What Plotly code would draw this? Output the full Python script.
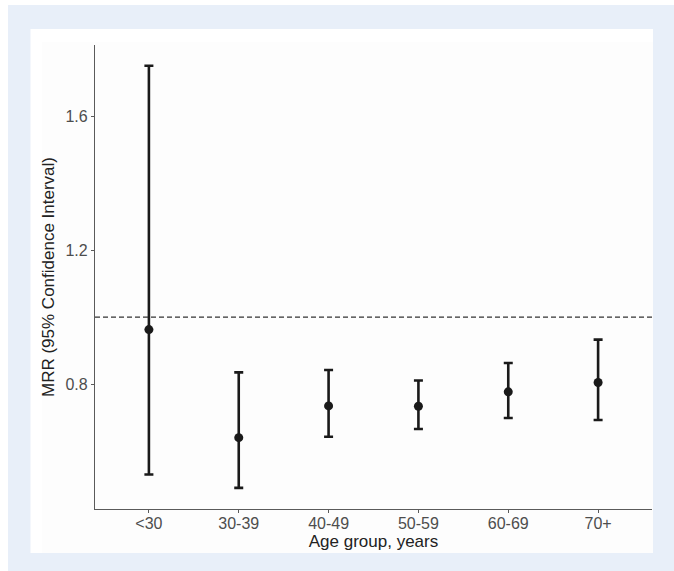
import plotly.graph_objects as go

categories = ["<30", "30-39", "40-49", "50-59", "60-69", "70+"]
mrr = [0.963, 0.640, 0.735, 0.734, 0.777, 0.805]
ci_lower = [0.530, 0.490, 0.643, 0.666, 0.699, 0.693]
ci_upper = [1.751, 0.835, 0.842, 0.811, 0.863, 0.933]
reference_value = 1.0
y_ticks = [0.8, 1.2, 1.6]

W, H = 674, 571
ML, MR, MT, MB = 95, 22, 45, 62
PW, PH = W - ML - MR, H - MT - MB


def px_x(px):
    return (px - ML) / PW


def px_y(py):
    return (H - MB - py) / PH


xs = list(range(len(categories)))
err_plus = [u - m for u, m in zip(ci_upper, mrr)]
err_minus = [m - l for m, l in zip(mrr, ci_lower)]

fig = go.Figure()
fig.add_trace(go.Scatter(
    x=xs, y=mrr, mode="markers",
    marker=dict(color="#1a1a1a", size=9),
    error_y=dict(type="data", symmetric=False, array=err_plus, arrayminus=err_minus,
                 color="#1a1a1a", thickness=2.6, width=4.5),
    showlegend=False, hoverinfo="skip",
))

fig.add_hline(y=reference_value, line=dict(color="#333333", width=1.2, dash="5px,3px"))

shapes = [
    dict(type="rect", xref="paper", yref="paper", layer="below",
         x0=px_x(8), x1=px_x(W + 2), y0=px_y(5), y1=px_y(H + 2),
         fillcolor="#e8eff9", line=dict(width=0)),
    dict(type="rect", xref="paper", yref="paper", layer="below",
         x0=px_x(30.5), x1=px_x(653), y0=px_y(29), y1=px_y(553),
         fillcolor="#ffffff", line=dict(width=0)),
    dict(type="rect", xref="paper", yref="paper", layer="below",
         x0=px_x(42), x1=px_x(653), y0=px_y(42), y1=px_y(553),
         fillcolor="#fdfdfd", line=dict(width=0)),
]
for s in shapes:
    fig.add_shape(**s)

fig.update_layout(
    width=W, height=H,
    margin=dict(l=ML, r=MR, t=MT, b=MB, pad=0),
    paper_bgcolor="#ffffff",
    plot_bgcolor="rgba(0,0,0,0)",
    font=dict(family="Liberation Sans, Arial, sans-serif", color="#222222"),
    xaxis=dict(
        range=[-0.6, len(categories) - 0.4],
        tickmode="array", tickvals=xs, ticktext=categories,
        showgrid=False, zeroline=False,
        showline=True, linecolor="#5a5a5a", linewidth=1.3,
        ticks="outside", ticklen=3, tickcolor="#5a5a5a", tickwidth=1,
        ticklabelstandoff=-3,
        tickfont=dict(size=16, color="#4d4d4d"),
        title=dict(text="Age group, years", font=dict(size=17, color="#222222"), standoff=3),
    ),
    yaxis=dict(
        range=[0.427, 1.813],
        tickmode="array", tickvals=y_ticks, ticktext=[f"{v:.1f}" for v in y_ticks],
        showgrid=False, zeroline=False,
        showline=True, linecolor="#5a5a5a", linewidth=1.3,
        ticks="outside", ticklen=3, tickcolor="#5a5a5a", tickwidth=1,
        tickfont=dict(size=16, color="#4d4d4d"),
        title=dict(text="MRR (95% Confidence Interval)", font=dict(size=17, color="#222222"), standoff=6),
    ),
)

fig.write_html(
    "out.html",
    config={"displayModeBar": False},
    post_script="document.documentElement.style.margin='0';document.body.style.margin='0';"
                "document.body.style.overflow='hidden';",
)
